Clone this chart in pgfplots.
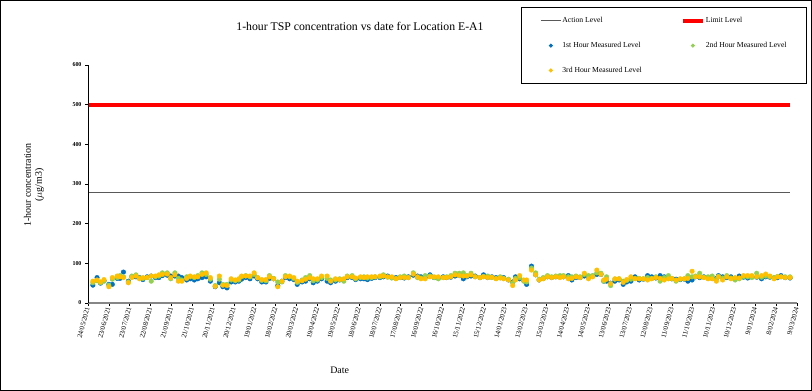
\documentclass[border=0pt]{standalone}
\usepackage{pgfplots}
\pgfplotsset{compat=1.18}
\usepackage{pgfplotstable}
\usepackage{fontspec}
\setmainfont{Liberation Serif}
\definecolor{hblue}{HTML}{0070C0}
\definecolor{hgreen}{HTML}{92D050}
\definecolor{hyellow}{HTML}{FFC000}
\definecolor{actgray}{HTML}{595959}
\definecolor{axgray}{HTML}{868686}
\pgfplotstableread{
day b g y
7 45 51 55
13 64 56 58
18 50 51 53
23 56 55 59
30 47 45 41
35 47 60 64
42 62 64 68
46 62 69 66
51 78 66 64
58 55 53 51
63 66 68 64
69 66 71 68
74 64 63 61
79 59 62 64
85 66 64 64
91 68 55 68
97 64 66 68
102 64 68 71
107 69 76 72
114 70 76 73
119 68 61 64
125 68 76 71
130 68 62 55
135 64 58 55
142 58 66 62
147 61 66 68
153 58 64 66
158 61 69 66
164 64 76 72
170 66 72 76
176 55 60 64
183 41 44 42
189 51 60 68
194 41 47 45
200 38 47 44
206 53 58 61
212 53 56 58
217 55 58 61
221 60 66 68
227 64 69 68
233 61 66 68
239 68 72 76
244 61 64 64
250 53 57 59
256 53 56 59
261 62 69 66
267 61 62 61
273 44 53 41
279 55 53 55
284 64 69 66
290 61 66 68
296 59 62 64
301 47 52 55
308 53 58 56
313 55 64 60
319 61 69 64
324 51 56 61
330 55 58 61
336 61 64 68
344 55 62 68
349 51 58 55
356 55 58 61
362 58 61 59
368 59 55 61
373 64 68 66
380 64 69 66
385 59 61 63
392 61 64 66
397 61 66 64
402 59 63 66
408 62 64 66
413 64 66 66
420 64 66 68
425 66 71 68
431 68 65 66
437 64 63 66
443 64 62 61
449 64 66 64
455 63 68 64
461 66 64 64
468 70 76 73
474 68 64 66
479 66 63 61
485 64 69 61
492 71 68 66
498 64 64 66
504 63 61 66
511 66 64 64
516 64 66 64
522 65 69 66
528 68 75 71
534 69 75 69
540 61 76 68
545 66 69 68
551 68 75 71
557 68 66 66
564 64 64 64
569 71 67 66
575 64 68 64
581 66 64 65
587 64 62 61
593 64 66 63
598 64 62 61
605 58 60 58
611 53 51 44
615 66 62 58
621 61 64 69
627 56 55 58
631 47 53 58
638 93 88 83
644 71 76 71
649 58 60 58
655 62 64 61
661 66 69 66
667 64 66 64
673 66 68 66
679 66 69 64
684 66 69 66
691 69 66 61
696 58 66 62
702 64 68 66
708 64 66 64
714 68 72 75
720 64 69 61
726 68 69 66
732 72 76 83
738 72 75 72
742 55 55 58
746 55 66 60
752 50 44 49
758 55 60 61
764 58 61 61
770 47 55 52
775 53 57 59
781 55 60 66
787 66 62 61
793 58 62 61
799 60 61 61
805 69 64 58
811 66 62 61
817 63 66 64
823 69 55 62
829 66 64 58
835 63 69 61
840 61 61 62
846 60 55 58
852 59 60 61
858 60 61 61
863 55 69 62
869 58 66 80
874 66 68 66
880 64 75 66
886 66 65 64
892 63 66 61
898 62 68 61
904 62 60 55
907 69 67 66
913 66 63 58
919 64 69 66
925 66 63 61
931 62 58 64
937 68 61 63
943 65 66 69
949 63 66 69
955 66 64 69
962 65 75 66
969 61 65 69
975 66 68 73
981 65 66 68
987 63 64 61
992 64 67 66
997 69 66 66
1003 64 66 64
1010 63 66 64
}\tspdata
\begin{document}
\begin{tikzpicture}
\useasboundingbox (0,0) rectangle (812bp,391bp);
\draw[black, line width=1.2bp] (0.6bp,0.6bp) rectangle (811.4bp,390.4bp);
\begin{axis}[
  at={(88bp,88bp)}, anchor=south west,
  scale only axis, width=709bp, height=238bp,
  xmin=0, xmax=1020, ymin=0, ymax=600,
  axis x line*=bottom, axis y line*=left,
  x axis line style={draw=axgray, line width=1.8bp, -},
  y axis line style={draw=black, line width=0.8bp, -},
  tick align=outside, major tick length=3bp,
  every tick/.style={black, line width=0.6bp},
  xtick={0,30,...,1020},
  xticklabels={24/05/2021,23/06/2021,23/07/2021,22/08/2021,21/09/2021,21/10/2021,20/11/2021,20/12/2021,19/01/2022,18/02/2022,20/03/2022,19/04/2022,19/05/2022,18/06/2022,18/07/2022,17/08/2022,16/09/2022,16/10/2022,15/11/2022,15/12/2022,14/01/2023,13/02/2023,15/03/2023,14/04/2023,14/05/2023,13/06/2023,13/07/2023,12/08/2023,11/09/2023,11/10/2023,10/11/2023,10/12/2023,9/01/2024,8/02/2024,9/03/2024},
  x tick label style={rotate=75, anchor=east, font=\fontsize{7}{8}\selectfont, inner sep=1.5bp},
  ytick={0,100,...,600},
  y tick label style={font=\fontsize{6}{7}\selectfont\bfseries},
  /pgf/number format/assume math mode=true,
  title={1-hour TSP concentration vs date for Location E-A1},
  title style={at={(axis description cs:0.3836,1.1387)}, anchor=center, font=\fontsize{11.8}{13}\selectfont},
  xlabel={Date},
  xlabel style={at={(axis description cs:0.355,-0.2815)}, anchor=center, font=\fontsize{10}{12}\selectfont},
  ylabel={1-hour concentration\\($\mu$g/m3)},
  ylabel style={at={(axis description cs:-0.0762,0.496)}, anchor=center, rotate=0, align=center, font=\fontsize{10}{11}\selectfont},
  legend columns=2,
  legend cell align=left,
  legend style={at={(axis description cs:1.0141,1.2437)}, anchor=north east,
    draw=black, line width=0.8bp, font=\fontsize{7.7}{9}\selectfont,
    inner xsep=19bp, inner ysep=8bp, row sep=14bp,
    nodes={inner xsep=1bp},
    /tikz/every even column/.append style={column sep=38bp},
    /tikz/every odd column/.append style={column sep=0bp}},
  legend image code/.code={\draw[#1] (0bp,0bp) -- (20bp,0bp);},
]
\addplot[actgray, line width=1.2bp] coordinates {(2,278) (1010,278)};
\addlegendentry{Action Level}
\addplot[red, line width=4bp] coordinates {(2,500) (1010,500)};
\addlegendentry{Limit Level}
\addplot[only marks, mark=*, mark size=2.3bp, draw=hblue, fill=hblue,
  legend image code/.code={\fill[hblue] (10bp,0bp) circle (1.6bp);}] table[x=day,y=b]{\tspdata};
\addlegendentry{1st Hour Measured Level}
\addplot[only marks, mark=*, mark size=2.3bp, draw=hgreen, fill=hgreen,
  legend image code/.code={\fill[hgreen] (10bp,0bp) circle (1.6bp);}] table[x=day,y=g]{\tspdata};
\addlegendentry{2nd Hour Measured Level}
\addplot[only marks, mark=*, mark size=2.3bp, draw=hyellow, fill=hyellow,
  legend image code/.code={\fill[hyellow] (10bp,0bp) circle (1.6bp);}] table[x=day,y=y]{\tspdata};
\addlegendentry{3rd Hour Measured Level}
\end{axis}
\end{tikzpicture}
\end{document}
